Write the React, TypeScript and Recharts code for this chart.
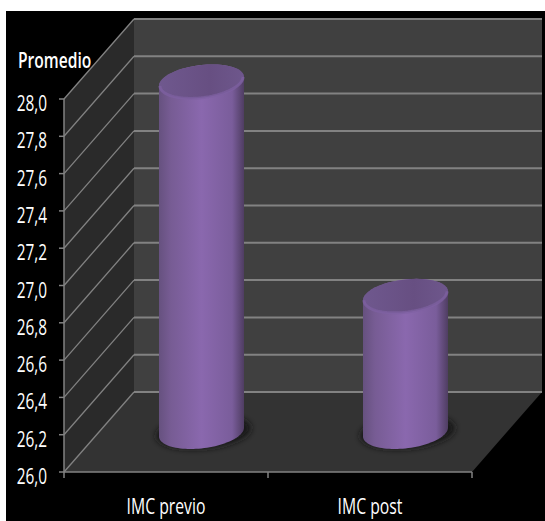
import { Bar, BarChart, CartesianGrid, XAxis, YAxis } from "recharts";

const categories = ["IMC previo", "IMC post"];
const promedio = [27.88, 26.73];
const yTicks = [26.0, 26.2, 26.4, 26.6, 26.8, 27.0, 27.2, 27.4, 27.6, 27.8, 28.0];

const chartData = categories.map((name, i) => ({ name, promedio: promedio[i] }));

// oblique projection used for the walls and the cylinders
const DEPTH_X = 70;
const DEPTH_Y = 80;
const RING_SKEW = 11;
const RING_RISE = 17;
const LINE = "#828282";
const LABEL_FONT = '"Open Sans", sans-serif';

const formatTick = (v: number) => v.toFixed(1).replace(".", ",");

function Walls({ x, y, width, height }: any) {
  const right = x + width;
  const bottom = y + height;
  return (
    <g>
      <polygon
        points={`${x},${y} ${x + DEPTH_X},${y - DEPTH_Y} ${x + DEPTH_X},${bottom - DEPTH_Y} ${x},${bottom}`}
        fill="#2a2a2a"
      />
      <polygon
        points={`${x + DEPTH_X},${y - DEPTH_Y} ${right + DEPTH_X},${y - DEPTH_Y} ${right + DEPTH_X},${bottom - DEPTH_Y} ${x + DEPTH_X},${bottom - DEPTH_Y}`}
        fill="#404040"
      />
      <polygon
        points={`${x},${bottom} ${right},${bottom} ${right + DEPTH_X},${bottom - DEPTH_Y} ${x + DEPTH_X},${bottom - DEPTH_Y}`}
        fill="#333333"
      />
    </g>
  );
}

function WallLine({ x1, x2, y1 }: any) {
  return (
    <g>
      <line x1={x1} y1={y1} x2={x1 + DEPTH_X} y2={y1 - DEPTH_Y} stroke={LINE} strokeWidth={1.3} />
      <line
        x1={x1 + DEPTH_X}
        y1={y1 - DEPTH_Y}
        x2={x2 + DEPTH_X}
        y2={y1 - DEPTH_Y}
        stroke={LINE}
        strokeWidth={2}
      />
    </g>
  );
}

// skewed circle: point at angle t around (cx, cy)
function ringPoint(cx: number, cy: number, a: number, t: number) {
  return [cx + a * Math.cos(t) + RING_SKEW * Math.sin(t), cy - RING_RISE * Math.sin(t)];
}

function arcPath(cx: number, cy: number, a: number, from: number, to: number) {
  const pts: string[] = [];
  for (let i = 0; i <= 48; i++) {
    const t = from + ((to - from) * i) / 48;
    const [px, py] = ringPoint(cx, cy, a, t);
    pts.push(`${px.toFixed(2)} ${py.toFixed(2)}`);
  }
  return pts;
}

function Cylinder({ x, y, width, height }: any) {
  const cx = x + width / 2 + DEPTH_X / 2;
  const topY = y - DEPTH_Y / 2;
  const baseY = y + height - DEPTH_Y / 2;
  const half = width / 2;
  const a = Math.sqrt(half * half - RING_SKEW * RING_SKEW);
  const t0 = Math.atan2(RING_SKEW, a);

  const lower = arcPath(cx, baseY, a, t0 + Math.PI, t0 + 2 * Math.PI);
  const upper = arcPath(cx, topY, a, t0, t0 + Math.PI);
  const body = `M${lower.join(" L")} L${upper.join(" L")} Z`;
  const lid = `M${arcPath(cx, topY, a, 0, 2 * Math.PI).join(" L")} Z`;
  const rim = `M${arcPath(cx, topY, a - 1, t0 + Math.PI, t0 + 2 * Math.PI).join(" L")}`;
  const shadow = `M${arcPath(cx + 2, baseY, a + 5, 0, 2 * Math.PI).join(" L")} Z`;

  return (
    <g>
      <path d={shadow} fill="#161616" filter="url(#baseShadow)" />
      <path d={body} fill="url(#cylinderBody)" />
      <path d={lid} fill="url(#cylinderLid)" />
      <path d={rim} fill="none" stroke="#7f61a3" strokeWidth={3} opacity={0.7} />
    </g>
  );
}

function ValueTick({ x, y, payload }: any) {
  return (
    <text
      transform={`translate(${x},${y + 12}) scale(0.7,1)`}
      textAnchor="end"
      fill="#ffffff"
      fontSize={22}
      fontFamily={LABEL_FONT}
    >
      {formatTick(payload.value)}
    </text>
  );
}

function CategoryTick({ x, y, payload, index, visibleTicksCount }: any) {
  const half = payload.offset;
  return (
    <g>
      <line x1={x - half} y1={y - 8} x2={x - half} y2={y - 2} stroke={LINE} strokeWidth={1.5} />
      {index === visibleTicksCount - 1 && (
        <line x1={x + half} y1={y - 8} x2={x + half} y2={y - 2} stroke={LINE} strokeWidth={1.5} />
      )}
      <text
        transform={`translate(${x},${y + 34}) scale(0.75,1)`}
        textAnchor="middle"
        fill="#ffffff"
        fontSize={21}
        fontFamily={LABEL_FONT}
      >
        {payload.value}
      </text>
    </g>
  );
}

export default function App() {
  return (
    <div style={{ position: "absolute", left: 0, top: 0, width: 545, height: 521, background: "#ffffff" }}>
      <div style={{ position: "absolute", left: 6, top: 11, width: 539, height: 510, background: "#000000" }} />
      <BarChart
        width={545}
        height={521}
        data={chartData}
        margin={{ top: 99, right: 73, bottom: 0, left: 4 }}
        barCategoryGap={0}
        style={{ position: "absolute", left: 0, top: 0 }}
      >
        <defs>
          <linearGradient id="cylinderBody" x1="0" y1="0" x2="1" y2="0">
            <stop offset="0" stopColor="#66517f" />
            <stop offset="0.14" stopColor="#775c94" />
            <stop offset="0.5" stopColor="#8a68ae" />
            <stop offset="0.86" stopColor="#7a5d9b" />
            <stop offset="1" stopColor="#4f3d62" />
          </linearGradient>
          <linearGradient id="cylinderLid" x1="0" y1="0" x2="1" y2="0">
            <stop offset="0" stopColor="#6f588e" />
            <stop offset="0.6" stopColor="#674f82" />
            <stop offset="1" stopColor="#6e578c" />
          </linearGradient>
          <filter id="baseShadow" x="-20%" y="-20%" width="140%" height="140%">
            <feGaussianBlur stdDeviation="3" />
          </filter>
        </defs>
        <CartesianGrid
          vertical={false}
          horizontal={(p: any) => (p.index === 0 ? <Walls key="walls" {...p} /> : <g key={p.key} />)}
        />
        <CartesianGrid vertical={false} horizontal={(p: any) => <WallLine key={p.key} {...p} />} />
        <XAxis
          dataKey="name"
          height={49}
          axisLine={{ stroke: LINE, strokeWidth: 1.5 }}
          tickLine={false}
          interval={0}
          tick={<CategoryTick />}
        />
        <YAxis
          width={60}
          domain={[26, 28]}
          ticks={yTicks}
          interval={0}
          tickSize={5}
          axisLine={{ stroke: LINE, strokeWidth: 1.5 }}
          tickLine={{ stroke: LINE, strokeWidth: 1.5 }}
          tick={<ValueTick />}
          tickMargin={12}
          label={(p: any) => (
            <text
              transform={`translate(${p.viewBox.x + 14},68) scale(0.71,1)`}
              fill="#ffffff"
              fontSize={22}
              fontWeight={600}
              fontFamily={LABEL_FONT}
            >
              Promedio
            </text>
          )}
        />
        <Bar dataKey="promedio" barSize={85} shape={<Cylinder />} isAnimationActive={false} />
      </BarChart>
    </div>
  );
}
